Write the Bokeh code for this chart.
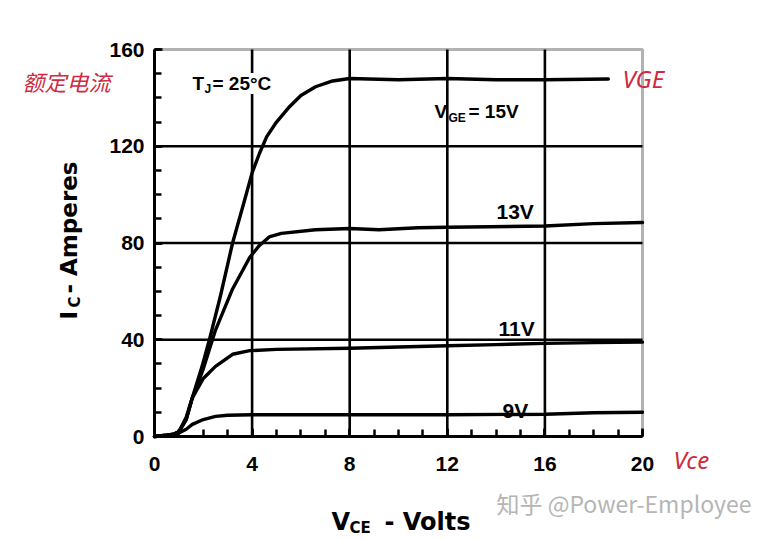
import math
from bokeh.plotting import figure
from bokeh.models import Range1d, FixedTicker, Label, BoxAnnotation
from bokeh.embed import file_html
from bokeh.resources import INLINE

# ---- data ----
x_ticks = [0, 4, 8, 12, 16, 20]
y_ticks = [0, 40, 80, 120, 160]
x_grid = [4, 8, 12, 16]
y_grid = [40, 80, 120]

vce_15 = [0, 0.5, 0.8, 1.0, 1.3, 1.55, 1.95, 2.25, 2.7, 3.2, 3.7, 4.0, 4.3, 4.6, 5.0, 5.5, 6.0, 6.6, 7.3, 8.0, 10.0, 12.0, 14.0, 16.0, 18.6]
ic_15 = [0, 0.5, 1, 2, 7, 16, 29, 40, 58, 80, 98, 109, 117, 124, 130, 136, 141, 144.6, 147, 148, 147.5, 148, 147.5, 147.5, 147.8]

vce_13 = [0, 0.5, 0.8, 1.0, 1.3, 1.55, 2.0, 2.5, 3.2, 3.9, 4.3, 4.7, 5.2, 6.6, 8.0, 9.2, 10.8, 12.0, 16.0, 18.0, 20.0]
ic_13 = [0, 0.5, 1, 2, 7, 16, 28, 44, 61, 74, 79, 82.5, 84, 85.5, 86, 85.5, 86.3, 86.5, 87, 88, 88.5]

vce_11 = [0, 0.5, 0.8, 1.0, 1.3, 1.55, 2.0, 2.5, 3.2, 3.9, 5.0, 8.0, 10.0, 12.0, 14.0, 16.0, 18.0, 20.0]
ic_11 = [0, 0.5, 1, 2, 8, 16, 24, 29, 34, 35.5, 36, 36.5, 37, 37.5, 38, 38.5, 38.8, 39]

vce_9 = [0, 0.5, 0.8, 1.0, 1.3, 1.55, 2.0, 2.5, 3.0, 4.0, 8.0, 12.0, 16.0, 18.0, 20.0]
ic_9 = [0, 0.5, 1, 1.5, 3, 5, 7, 8.3, 8.8, 9, 9, 9, 9.2, 9.8, 10]

# ---- layout: the plot box in picture pixels; the frame covers the whole canvas ----
BL, BT, BW, BH = 155, 50, 488, 387      # plot box (picture px)
X0, X1, Y0, Y1 = 0, 20, 0, 160          # plot box (data)
ORIGIN = 1                              # picture px of the canvas' top-left corner
CW, CH = 775, 536
sx = BW / (X1 - X0)
sy = BH / (Y1 - Y0)
x_start = X0 + (ORIGIN - BL) / sx
x_end = X0 + (ORIGIN + CW - BL) / sx
y_end = Y0 + (BT + BH - ORIGIN) / sy
y_start = Y0 + (BT + BH - ORIGIN - CH) / sy

p = figure(frame_width=CW, frame_height=CH, output_backend="svg", toolbar_location=None,
           x_range=Range1d(x_start, x_end), y_range=Range1d(y_start, y_end),
           min_border=0)
p.background_fill_color = "white"
p.border_fill_color = "white"
p.outline_line_color = None
p.xgrid.visible = False
p.ygrid.visible = False

TICK_FONT = "Liberation Sans"
for ax, ticks, minor, bnds in ((p.xaxis[0], x_ticks, list(range(0, 21)), (X0, X1)),
                               (p.yaxis[0], y_ticks, list(range(0, 161, 10)), (Y0, Y1))):
    ax.fixed_location = 0
    ax.bounds = bnds
    ax.ticker = FixedTicker(ticks=ticks, minor_ticks=minor)
    ax.axis_line_color = "black"
    ax.axis_line_width = 3
    ax.major_tick_in = 8
    ax.major_tick_out = 0
    ax.minor_tick_in = 7
    ax.minor_tick_out = 0
    ax.major_tick_line_width = 2.5
    ax.minor_tick_line_width = 2.5
    ax.major_tick_line_color = "black"
    ax.minor_tick_line_color = "black"
    ax.major_label_text_font = TICK_FONT
    ax.major_label_text_font_style = "bold"
    ax.major_label_text_font_size = "21px"
    ax.major_label_text_color = "black"
p.xaxis.major_label_standoff = 20
p.yaxis.major_label_standoff = 10

# grid lines limited to the plot box
p.segment(x0=x_grid, y0=[Y0] * len(x_grid), x1=x_grid, y1=[Y1] * len(x_grid),
          line_color="black", line_width=2.6)
p.segment(x0=[X0] * len(y_grid), y0=y_grid, x1=[X1] * len(y_grid), y1=y_grid,
          line_color="black", line_width=2.6)

# plot box outline
p.add_layout(BoxAnnotation(left=X0, right=X1, bottom=Y0, top=Y1, fill_alpha=0,
                           line_color="black", line_width=3, level="guide"))

for xs, ys in ((vce_15, ic_15), (vce_13, ic_13), (vce_11, ic_11), (vce_9, ic_9)):
    p.line(xs, ys, line_color="black", line_width=3.4, line_join="round", line_cap="round")


def lab(text, px, py, size, font="Liberation Sans", style="bold", color="black",
        align="left", baseline="alphabetic", angle=0.0, bg=None):
    kw = {}
    if bg:
        kw["background_fill_color"] = bg
    p.add_layout(Label(x=px - ORIGIN, y=py - ORIGIN, x_units="canvas", y_units="canvas",
                       text=text, text_font=font, text_font_style=style,
                       text_font_size=f"{size}px", text_color=color, text_align=align,
                       text_baseline=baseline, angle=angle, **kw))


# in-plot annotations
lab("T", 193, 84, 19)
lab("J", 205, 89, 12)
lab("= 25°C", 213, 84, 19, bg="white")
lab("V", 435, 112, 19)
lab("GE", 449, 118, 12)
lab("= 15V", 469, 112, 19)
lab("13V", 497, 212, 21)
lab("11V", 499, 329, 21)
lab("9V", 503, 411, 21)

# axis titles
TF = "DejaVu Sans"
lab("V", 332, 522, 24, font=TF)
lab("CE", 350, 528, 15, font=TF)
lab("- Volts", 385, 522, 24, font=TF)
lab("I", 69, 320, 23, font=TF, angle=math.pi / 2)
lab("C", 75, 308, 15, font=TF, angle=math.pi / 2)
lab("- Amperes", 69, 294, 23, font=TF, angle=math.pi / 2)

# red notes and watermark
RED = "#d02a3e"
lab("额定电流", 23, 81, 22, font="Noto Sans CJK SC", style="italic", color=RED, baseline="middle")
lab("VGE", 623, 79, 24, font="Noto Sans", style="italic", color=RED, baseline="middle")
lab("Vce", 674, 460, 24, font="Noto Sans", style="italic", color=RED, baseline="middle")
lab("知乎 @Power-Employee", 497, 503, 23, font="Noto Sans CJK SC", style="normal",
    color="#b5b5b5", baseline="middle")

open("out.html", "w").write(file_html(p, INLINE))
